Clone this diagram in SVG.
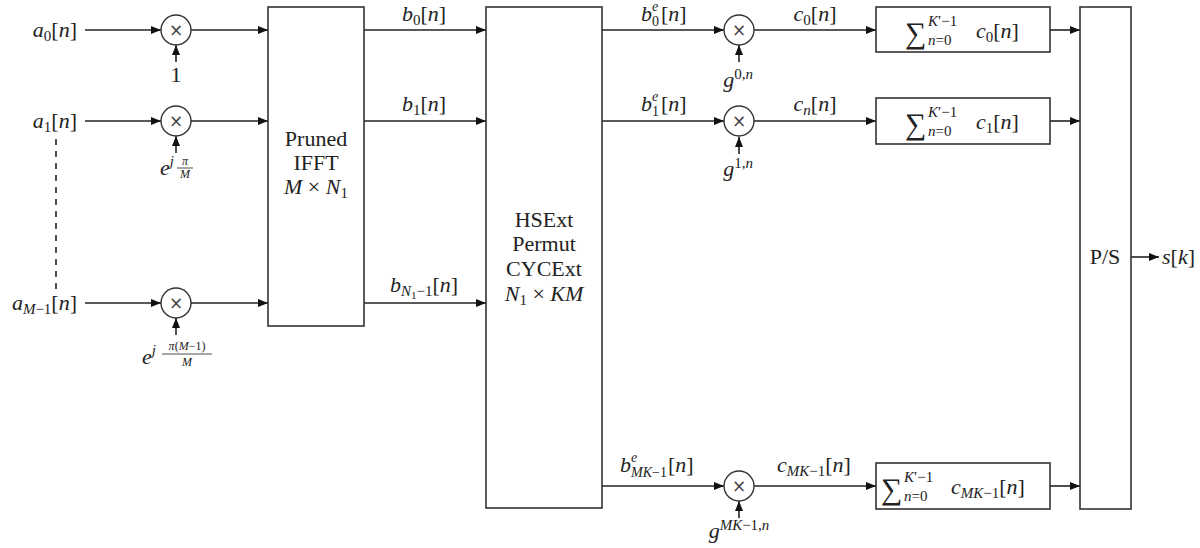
<svg xmlns="http://www.w3.org/2000/svg" width="1200" height="548" viewBox="0 0 1200 548">
<style>
.t{font-family:'Liberation Serif','Times New Roman',serif;font-size:22px;fill:#222}
.i{font-style:italic}
.s{font-size:15px}
.ss{font-size:14px}
.xs{font-size:11px}
.f{font-size:12px}
.sum{font-size:30px}
.box{fill:none;stroke:#333;stroke-width:1.6}
.mul{fill:#fff;stroke:#333;stroke-width:1.4}
.x{font-family:'DejaVu Sans',sans-serif;font-size:17px;fill:#444}
.ln{fill:none;stroke:#222;stroke-width:1.6}
.arr{fill:none;stroke:#222;stroke-width:1.6;marker-end:url(#ah)}
.fl{stroke:#222;stroke-width:0.8}
</style>
<defs>
<marker id="ah" markerUnits="userSpaceOnUse" markerWidth="11" markerHeight="8" refX="10" refY="4" orient="auto">
<path d="M0,0 L10,4 L0,8 Z" fill="#111"/>
</marker>
</defs>
<rect width="1200" height="548" fill="#fff"/>

<g id="connectors">
<path class="arr" d="M85,30 H161"/>
<path class="arr" d="M85,121 H161"/>
<path class="arr" d="M85,303 H161"/>
<path class="arr" d="M176,62 V45"/>
<path class="arr" d="M176,153 V136"/>
<path class="arr" d="M176,335 V318"/>
<path class="arr" d="M191,30 H268"/>
<path class="arr" d="M191,121 H268"/>
<path class="arr" d="M191,303 H268"/>
<path class="ln" d="M56,139 V292" stroke-dasharray="6,6"/>
<path class="arr" d="M364,30 H486"/>
<path class="arr" d="M364,121 H486"/>
<path class="arr" d="M364,303 H486"/>
<path class="arr" d="M602,30 H724"/>
<path class="arr" d="M602,121 H724"/>
<path class="arr" d="M602,486 H724"/>
<path class="arr" d="M739,62 V45"/>
<path class="arr" d="M739,154 V137"/>
<path class="arr" d="M739,518 V501"/>
<path class="arr" d="M754,30 H876"/>
<path class="arr" d="M754,121 H876"/>
<path class="arr" d="M754,486 H876"/>
<path class="arr" d="M1050,30 H1080"/>
<path class="arr" d="M1050,121 H1080"/>
<path class="arr" d="M1050,486 H1080"/>
<path class="arr" d="M1131,257 H1159"/>
</g>

<g id="in0">
<text class="t" x="77" y="37" text-anchor="end"><tspan class="i">a</tspan><tspan class="s" dy="4">0</tspan><tspan dy="-4">[</tspan><tspan class="i">n</tspan>]</text>
</g>
<g id="in1">
<text class="t" x="77" y="128" text-anchor="end"><tspan class="i">a</tspan><tspan class="s" dy="4">1</tspan><tspan dy="-4">[</tspan><tspan class="i">n</tspan>]</text>
</g>
<g id="inM">
<text class="t" x="77" y="310" text-anchor="end"><tspan class="i">a</tspan><tspan class="s" dy="4"><tspan class="i">M</tspan>−1</tspan><tspan dy="-4">[</tspan><tspan class="i">n</tspan>]</text>
</g>

<g id="mul0">
<circle class="mul" cx="176" cy="30" r="15"/>
<text class="x" x="176" y="36" text-anchor="middle">×</text>
<text class="t" x="176" y="82" text-anchor="middle">1</text>
</g>
<g id="mul1">
<circle class="mul" cx="176" cy="121" r="15"/>
<text class="x" x="176" y="127" text-anchor="middle">×</text>
<text class="t" x="160" y="175"><tspan class="i">e</tspan><tspan class="s i" dy="-9">j</tspan></text>
<text class="t f i" x="185" y="165" text-anchor="middle">π</text>
<line class="fl" x1="177" y1="168" x2="193" y2="168"/>
<text class="t f i" x="185" y="178" text-anchor="middle">M</text>
</g>
<g id="mulM">
<circle class="mul" cx="176" cy="303" r="15"/>
<text class="x" x="176" y="309" text-anchor="middle">×</text>
<text class="t" x="142" y="364"><tspan class="i">e</tspan><tspan class="s i" dy="-9">j</tspan></text>
<text class="t f" x="187" y="350" text-anchor="middle"><tspan class="i">π</tspan>(<tspan class="i">M</tspan>−1)</text>
<line class="fl" x1="162" y1="354" x2="212" y2="354"/>
<text class="t f i" x="187" y="366" text-anchor="middle">M</text>
</g>

<g id="ifft">
<rect class="box" x="268" y="7" width="96" height="319"/>
<text class="t" x="316" y="146" text-anchor="middle">Pruned</text>
<text class="t" x="316" y="170" text-anchor="middle">IFFT</text>
<text class="t" x="316" y="194" text-anchor="middle"><tspan class="i">M</tspan> × <tspan class="i">N</tspan><tspan class="s" dy="4">1</tspan></text>
</g>

<g id="blabels">
<text class="t" x="424" y="21" text-anchor="middle"><tspan class="i">b</tspan><tspan class="s" dy="4">0</tspan><tspan dy="-4">[</tspan><tspan class="i">n</tspan>]</text>
<text class="t" x="424" y="111" text-anchor="middle"><tspan class="i">b</tspan><tspan class="s" dy="4">1</tspan><tspan dy="-4">[</tspan><tspan class="i">n</tspan>]</text>
<text class="t" x="424" y="292" text-anchor="middle"><tspan class="i">b</tspan><tspan class="s i" dy="4">N</tspan><tspan class="xs" dy="3">1</tspan><tspan class="s" dy="-3">−1</tspan><tspan dy="-4">[</tspan><tspan class="i">n</tspan>]</text>
</g>

<g id="hsext">
<rect class="box" x="486" y="7" width="116" height="501"/>
<text class="t" x="544" y="227" text-anchor="middle">HSExt</text>
<text class="t" x="544" y="251" text-anchor="middle">Permut</text>
<text class="t" x="544" y="276" text-anchor="middle">CYCExt</text>
<text class="t" x="544" y="301" text-anchor="middle"><tspan class="i">N</tspan><tspan class="s" dy="4">1</tspan><tspan dy="-4"> × </tspan><tspan class="i">KM</tspan></text>
</g>

<g id="belabels">
<text class="t" x="641" y="21"><tspan class="i">b</tspan><tspan class="ss i" x="652" dy="-10">e</tspan><tspan class="ss" x="652" dy="15">0</tspan><tspan x="661" dy="-5">[</tspan><tspan class="i">n</tspan>]</text>
<text class="t" x="641" y="111"><tspan class="i">b</tspan><tspan class="ss i" x="652" dy="-10">e</tspan><tspan class="ss" x="652" dy="15">1</tspan><tspan x="661" dy="-5">[</tspan><tspan class="i">n</tspan>]</text>
<text class="t" x="620" y="472"><tspan class="i">b</tspan><tspan class="ss i" x="631" dy="-10">e</tspan><tspan class="ss" x="631" dy="15"><tspan class="i">MK</tspan>−1</tspan><tspan x="668" dy="-5">[</tspan><tspan class="i">n</tspan>]</text>
</g>

<g id="gmul0">
<circle class="mul" cx="739" cy="30" r="15"/>
<text class="x" x="739" y="36" text-anchor="middle">×</text>
<text class="t" x="738" y="87" text-anchor="middle"><tspan class="i">g</tspan><tspan class="s" dy="-8">0,<tspan class="i">n</tspan></tspan></text>
</g>
<g id="gmul1">
<circle class="mul" cx="739" cy="121" r="15"/>
<text class="x" x="739" y="127" text-anchor="middle">×</text>
<text class="t" x="738" y="176" text-anchor="middle"><tspan class="i">g</tspan><tspan class="s" dy="-8">1,<tspan class="i">n</tspan></tspan></text>
</g>
<g id="gmulMK">
<circle class="mul" cx="739" cy="486" r="15"/>
<text class="x" x="739" y="492" text-anchor="middle">×</text>
<text class="t" x="739" y="538" text-anchor="middle"><tspan class="i">g</tspan><tspan class="s" dy="-8"><tspan class="i">MK</tspan>−1,<tspan class="i">n</tspan></tspan></text>
</g>

<g id="clabels">
<text class="t" x="815" y="21" text-anchor="middle"><tspan class="i">c</tspan><tspan class="s" dy="4">0</tspan><tspan dy="-4">[</tspan><tspan class="i">n</tspan>]</text>
<text class="t" x="815" y="111" text-anchor="middle"><tspan class="i">c</tspan><tspan class="s i" dy="4">n</tspan><tspan dy="-4">[</tspan><tspan class="i">n</tspan>]</text>
<text class="t" x="814" y="472" text-anchor="middle"><tspan class="i">c</tspan><tspan class="s" dy="4"><tspan class="i">MK</tspan>−1</tspan><tspan dy="-4">[</tspan><tspan class="i">n</tspan>]</text>
</g>

<g id="sum0">
<rect class="box" x="876" y="7" width="174" height="45"/>
<text class="t sum" x="905" y="43">∑</text>
<text class="t s" x="928" y="26"><tspan class="i">K</tspan>′−1</text>
<text class="t s" x="928" y="45"><tspan class="i">n</tspan>=0</text>
<text class="t" x="976" y="38"><tspan class="i">c</tspan><tspan class="s" dy="4">0</tspan><tspan dy="-4">[</tspan><tspan class="i">n</tspan>]</text>
</g>
<g id="sum1">
<rect class="box" x="876" y="98" width="174" height="46"/>
<text class="t sum" x="905" y="134">∑</text>
<text class="t s" x="928" y="117"><tspan class="i">K</tspan>′−1</text>
<text class="t s" x="928" y="136"><tspan class="i">n</tspan>=0</text>
<text class="t" x="976" y="129"><tspan class="i">c</tspan><tspan class="s" dy="4">1</tspan><tspan dy="-4">[</tspan><tspan class="i">n</tspan>]</text>
</g>
<g id="sumMK">
<rect class="box" x="876" y="463" width="174" height="46"/>
<text class="t sum" x="881" y="499">∑</text>
<text class="t s" x="904" y="482"><tspan class="i">K</tspan>′−1</text>
<text class="t s" x="904" y="501"><tspan class="i">n</tspan>=0</text>
<text class="t" x="951" y="494"><tspan class="i">c</tspan><tspan class="s" dy="4"><tspan class="i">MK</tspan>−1</tspan><tspan dy="-4">[</tspan><tspan class="i">n</tspan>]</text>
</g>

<g id="ps">
<rect class="box" x="1080" y="7" width="51" height="502"/>
<text class="t" x="1105" y="264" text-anchor="middle">P/S</text>
</g>
<g id="out">
<text class="t" x="1162" y="264"><tspan class="i">s</tspan>[<tspan class="i">k</tspan>]</text>
</g>
</svg>
